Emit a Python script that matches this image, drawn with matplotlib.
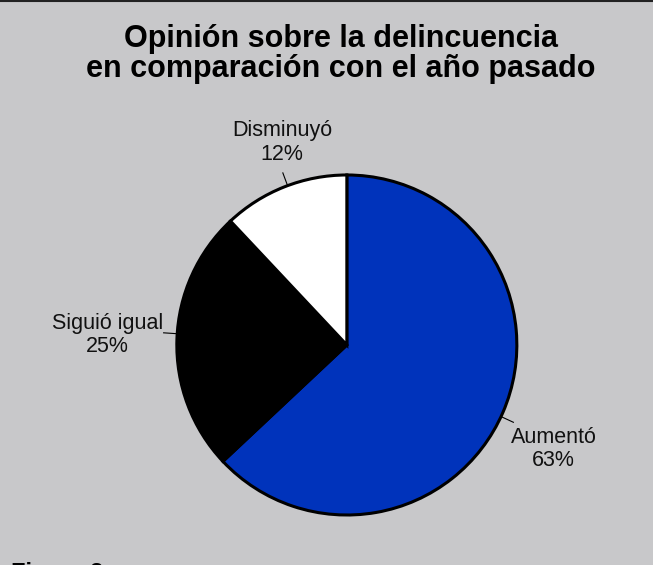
import numpy as np
import matplotlib.pyplot as plt
from matplotlib.lines import Line2D

# data
categorias = ['Aumentó', 'Siguió igual', 'Disminuyó']
porcentajes = [63, 25, 12]
colores = ['#0033BB', '#000000', '#FFFFFF']

plt.rcParams['font.family'] = ['Liberation Sans', 'DejaVu Sans']

fondo = '#C8C8CA'
fig = plt.figure(figsize=(6.53, 5.65), dpi=100, facecolor=fondo)

# pie axes: circle centre ~ (347, 345) px, radius ~170 px
ax = fig.add_axes([0.2708, 0.0885, 0.5207, 0.6018])
ax.set_facecolor(fondo)
wedges, _ = ax.pie(porcentajes, colors=colores, startangle=90, counterclock=False,
                   wedgeprops=dict(edgecolor='black', linewidth=2.2),
                   radius=1.0)
ax.set_xlim(-1, 1)
ax.set_ylim(-1, 1)
ax.set_aspect('equal')
ax.axis('off')

# label placement: distance factor, angle tweak (deg), leader line tweak (deg)
dist = [1.36, 1.41, 1.25]
ajuste = [-3.3, -0.6, -3.8]
ajuste_linea = [-1.5, -2.0, -1.2]

for w, cat, p, d, a, al in zip(wedges, categorias, porcentajes, dist, ajuste, ajuste_linea):
    mid = (w.theta1 + w.theta2) / 2
    ang = np.deg2rad(mid + a)
    ax.text(d * np.cos(ang), d * np.sin(ang), f'{cat}\n{p}%', ha='center', va='center',
            fontsize=15.5, linespacing=1.15, color='#111111', clip_on=False)
    la = np.deg2rad(mid + al)
    ax.add_line(Line2D([1.0 * np.cos(la), 1.08 * np.cos(la)],
                       [1.0 * np.sin(la), 1.08 * np.sin(la)],
                       color='black', linewidth=0.8, clip_on=False))

fig.text(0.522, 0.904, 'Opinión sobre la delincuencia\nen comparación con el año pasado',
         ha='center', va='center', fontsize=22, fontweight='bold', linespacing=1.02)

fig.text(0.017, 1 - 562 / 565, 'Figura 3', ha='left', va='top',
         fontsize=17, fontweight='bold')

# top border
fig.add_artist(Line2D([0, 1], [0.998, 0.998], color='#222222', linewidth=1.5,
                      transform=fig.transFigure))

fig.savefig('out.png', dpi=100, facecolor=fondo)
